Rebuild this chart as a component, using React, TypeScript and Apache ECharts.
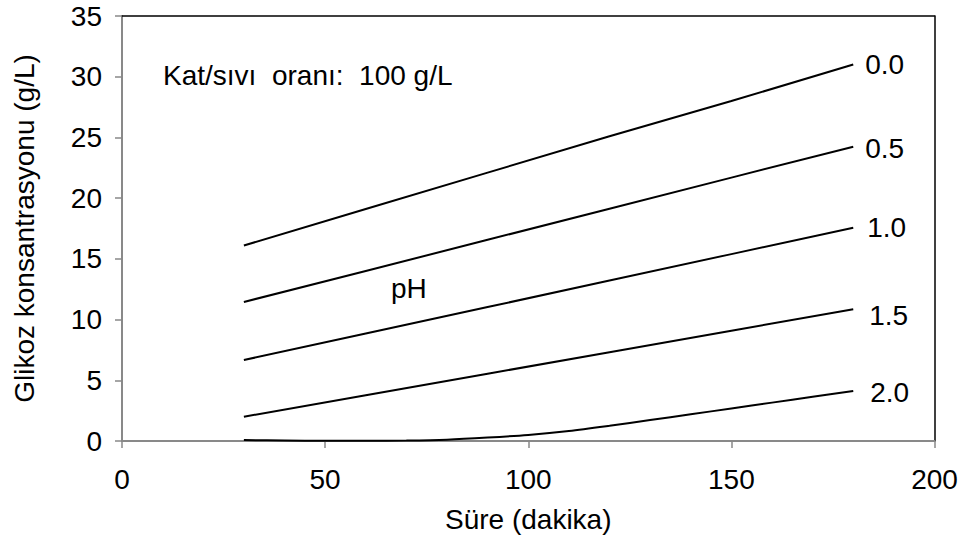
import React, { useEffect, useRef } from "react";
import * as echarts from "echarts";

const times = [30, 60, 90, 120, 150, 180];
const ph00 = [16.1, 19.1, 22.1, 25.1, 28.0, 31.0];
const ph05 = [11.45, 14.0, 16.57, 19.13, 21.69, 24.24];
const ph10 = [6.67, 8.85, 11.03, 13.21, 15.39, 17.57];
const ph15 = [2.0, 3.77, 5.54, 7.31, 9.08, 10.85];
const times20 = [30, 40, 50, 60, 70, 80, 90, 100, 110, 120, 130, 140, 150, 160, 170, 180];
const ph20 = [0.08, 0.04, 0.02, 0.02, 0.04, 0.11, 0.28, 0.5, 0.82, 1.25, 1.72, 2.2, 2.68, 3.16, 3.64, 4.12];
const phNames = ["0.0", "0.5", "1.0", "1.5", "2.0"];
const xTicks = [0, 200, 50];
const yTicks = [0, 35, 5];

const FONT = "Liberation Sans, Arial, sans-serif";
const AXIS_GRAY = "#898989";

export default function App() {
  const ref = useRef<HTMLDivElement>(null);
  useEffect(() => {
    if (!ref.current) return;
    const chart = echarts.init(ref.current, null, { renderer: "svg" });
    const seriesData = [
      times.map((t, i) => [t, ph00[i]]),
      times.map((t, i) => [t, ph05[i]]),
      times.map((t, i) => [t, ph10[i]]),
      times.map((t, i) => [t, ph15[i]]),
      times20.map((t, i) => [t, ph20[i]]),
    ];
    const labelOffsets = [
      [0, 0],
      [0, 2],
      [2, 0],
      [4, 6],
      [5, 2],
    ];
    chart.setOption({
      animation: false,
      backgroundColor: "#fff",
      textStyle: { fontFamily: FONT },
      grid: { left: 122, top: 16, right: 28.5, bottom: 100, containLabel: false },
      xAxis: [
        {
          type: "value",
          min: xTicks[0],
          max: xTicks[1],
          interval: xTicks[2],
          axisLine: { onZero: false, lineStyle: { color: AXIS_GRAY, width: 2 } },
          axisTick: { show: true, inside: false, length: 7, lineStyle: { color: AXIS_GRAY, width: 1.5 } },
          splitLine: { show: false },
          axisLabel: { fontSize: 28, color: "#000", margin: 24, fontFamily: FONT },
          name: "Süre (dakika)",
          nameLocation: "middle",
          nameGap: 64,
          nameTextStyle: { fontSize: 28, color: "#000", fontFamily: FONT },
        },
        {
          type: "value",
          position: "top",
          min: xTicks[0],
          max: xTicks[1],
          interval: xTicks[2],
          axisLine: { onZero: false, lineStyle: { color: "#000", width: 1.5 } },
          axisTick: { show: false },
          axisLabel: { show: false },
          splitLine: { show: false },
        },
      ],
      yAxis: [
        {
          type: "value",
          min: yTicks[0],
          max: yTicks[1],
          interval: yTicks[2],
          axisLine: { show: true, onZero: false, lineStyle: { color: AXIS_GRAY, width: 2 } },
          axisTick: { show: true, inside: false, length: 7, lineStyle: { color: AXIS_GRAY, width: 1.5 } },
          splitLine: { show: false },
          axisLabel: { fontSize: 28, color: "#000", margin: 20, fontFamily: FONT },
          name: "Glikoz konsantrasyonu (g/L)",
          nameLocation: "middle",
          nameGap: 84,
          nameRotate: 90,
          nameTextStyle: { fontSize: 28, color: "#000", fontFamily: FONT },
        },
        {
          type: "value",
          position: "right",
          min: yTicks[0],
          max: yTicks[1],
          interval: yTicks[2],
          axisLine: { show: true, onZero: false, lineStyle: { color: "#000", width: 1.5 } },
          axisTick: { show: false },
          axisLabel: { show: false },
          splitLine: { show: false },
        },
      ],
      series: seriesData.map((d, i) => ({
        type: "line",
        name: phNames[i],
        data: d,
        xAxisIndex: 0,
        yAxisIndex: 0,
        showSymbol: false,
        symbol: "none",
        smooth: i === 4 ? 0.3 : false,
        lineStyle: { color: "#000", width: 2 },
        endLabel: {
          show: true,
          formatter: phNames[i],
          distance: 12,
          offset: labelOffsets[i],
          fontSize: 28,
          color: "#000",
          fontFamily: FONT,
        },
        z: 5,
      })),
      graphic: [
        {
          type: "text",
          left: 163,
          top: 61,
          style: { text: "Kat/sıvı  oranı:  100 g/L", fontSize: 28, fill: "#000", fontFamily: FONT },
        },
        {
          type: "text",
          left: 391,
          top: 274,
          style: { text: "pH", fontSize: 28, fill: "#000", fontFamily: FONT },
        },
      ],
    });
    return () => chart.dispose();
  }, []);
  return <div ref={ref} style={{ width: 963, height: 541, position: "absolute", left: 0, top: 0 }} />;
}
